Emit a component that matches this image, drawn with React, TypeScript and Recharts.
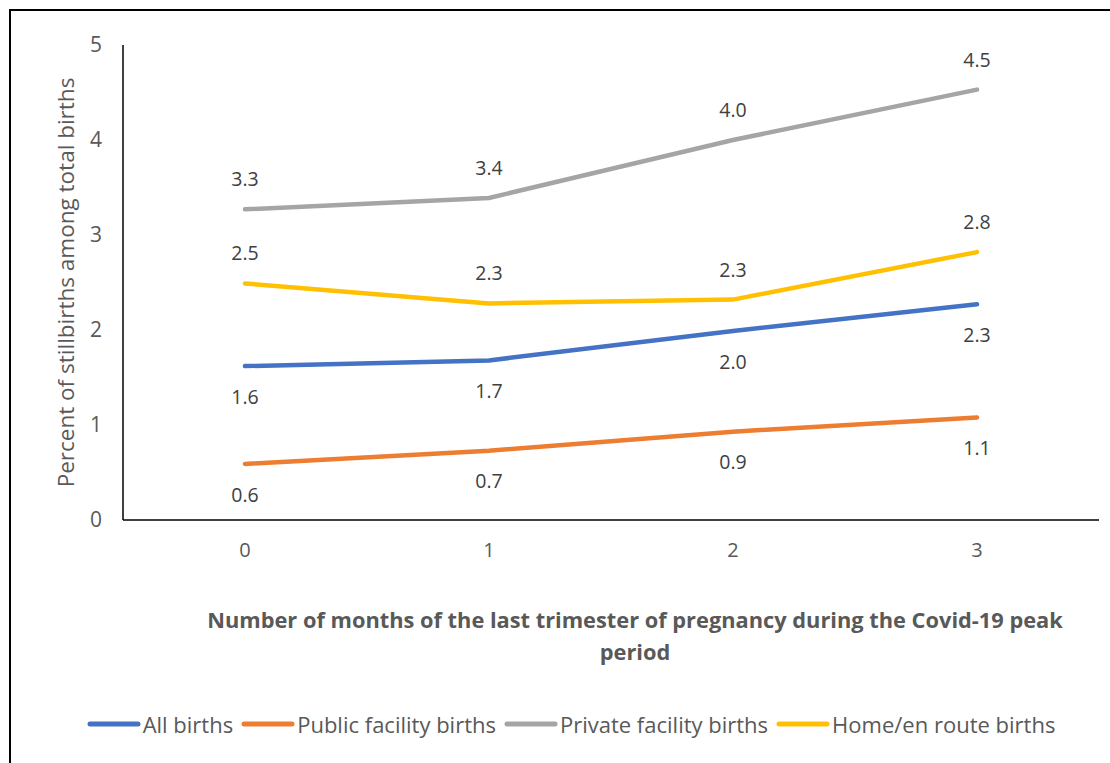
import { LineChart, Line, XAxis, YAxis, Legend, LabelList } from "recharts";

const months = ["0", "1", "2", "3"];
const allBirths = [1.62, 1.68, 1.99, 2.27];
const publicBirths = [0.59, 0.73, 0.93, 1.08];
const privateBirths = [3.27, 3.39, 4.0, 4.53];
const homeBirths = [2.49, 2.28, 2.32, 2.82];
const yTicks = [0, 1, 2, 3, 4, 5];

const FONT = "'Open Sans', Lato, sans-serif";

const data = months.map((m, i) => ({
  month: m,
  all: allBirths[i],
  pub: publicBirths[i],
  priv: privateBirths[i],
  home: homeBirths[i],
}));

const series = [
  { key: "all", name: "All births", color: "#4472C4", pos: "bottom" },
  { key: "pub", name: "Public facility births", color: "#ED7D31", pos: "bottom" },
  { key: "priv", name: "Private facility births", color: "#A5A5A5", pos: "top" },
  { key: "home", name: "Home/en route births", color: "#FFC000", pos: "top" },
] as const;

const fmt = (v: any) => Number(v).toFixed(1);

function XTitle({ viewBox }: any) {
  const cx = 635;
  const y = viewBox.y;
  return (
    <text
      textAnchor="middle"
      fontFamily={FONT}
      fontWeight={700}
      fontSize={21.8}
      fill="#595959"
    >
      <tspan x={cx} y={y + 108}>
        Number of months of the last trimester of pregnancy during the Covid-19 peak
      </tspan>
      <tspan x={cx} y={y + 140}>
        period
      </tspan>
    </text>
  );
}

function YTitle({ viewBox }: any) {
  const cx = viewBox.x + 2;
  const cy = viewBox.y + viewBox.height / 2;
  return (
    <text
      x={cx}
      y={cy}
      transform={`rotate(-90 ${cx} ${cy})`}
      textAnchor="middle"
      dominantBaseline="central"
      fontFamily={FONT}
      fontSize={22.5}
      fill="#595959"
    >
      Percent of stillbirths among total births
    </text>
  );
}

function LegendRow({ payload }: any) {
  const items = series
    .map((s) => (payload || []).find((p: any) => p.dataKey === s.key))
    .filter(Boolean);
  return (
    <div
      style={{
        display: "flex",
        justifyContent: "center",
        alignItems: "center",
        fontFamily: FONT,
        fontSize: 22,
        color: "#595959",
        marginLeft: -12,
      }}
    >
      {items.map((p: any) => (
        <span key={p.value} style={{ display: "flex", alignItems: "center", marginRight: 8 }}>
          <svg width={54} height={10}>
            <line x1={3} y1={5} x2={51} y2={5} stroke={p.color} strokeWidth={5} strokeLinecap="round" />
          </svg>
          <span style={{ marginLeft: 2 }}>{p.value}</span>
        </span>
      ))}
    </div>
  );
}

export default function App() {
  return (
    <div
      style={{
        position: "fixed",
        left: 0,
        top: 0,
        width: 1110,
        height: 763,
        overflow: "hidden",
        background: "#fff",
      }}
    >
      <div
        style={{
          position: "absolute",
          left: 9,
          top: 9,
          width: 1140,
          height: 800,
          border: "2px solid #000",
        }}
      />
      <LineChart
        width={1110}
        height={763}
        data={data}
        margin={{ top: 45, right: 11, left: 63, bottom: 14 }}
      >
        <XAxis
          dataKey="month"
          padding={{ left: 122, right: 122 }}
          axisLine={{ stroke: "#000", strokeWidth: 1.5 }}
          tickLine={false}
          tickSize={0}
          tickMargin={23}
          height={189}
          tick={{ fontFamily: FONT, fontSize: 20, fill: "#595959" }}
          label={<XTitle />}
        />
        <YAxis
          domain={[0, 5]}
          ticks={yTicks}
          width={60}
          axisLine={{ stroke: "#000", strokeWidth: 1.5 }}
          tickLine={false}
          tickSize={0}
          tickMargin={21}
          tick={{ fontFamily: FONT, fontSize: 21, fill: "#595959" }}
          label={<YTitle />}
        />
        <Legend verticalAlign="bottom" height={40} content={<LegendRow />} />
        {series.map((s) => (
          <Line
            key={s.key}
            dataKey={s.key}
            name={s.name}
            type="linear"
            stroke={s.color}
            strokeWidth={4.5}
            strokeLinecap="round"
            dot={false}
            activeDot={false}
            isAnimationActive={false}
          >
            <LabelList
              dataKey={s.key}
              position={s.pos}
              offset={s.pos === "top" ? 23 : 24}
              formatter={fmt}
              style={{ fontFamily: FONT, fontSize: 19.5, fill: "#404040" }}
            />
          </Line>
        ))}
      </LineChart>
    </div>
  );
}
